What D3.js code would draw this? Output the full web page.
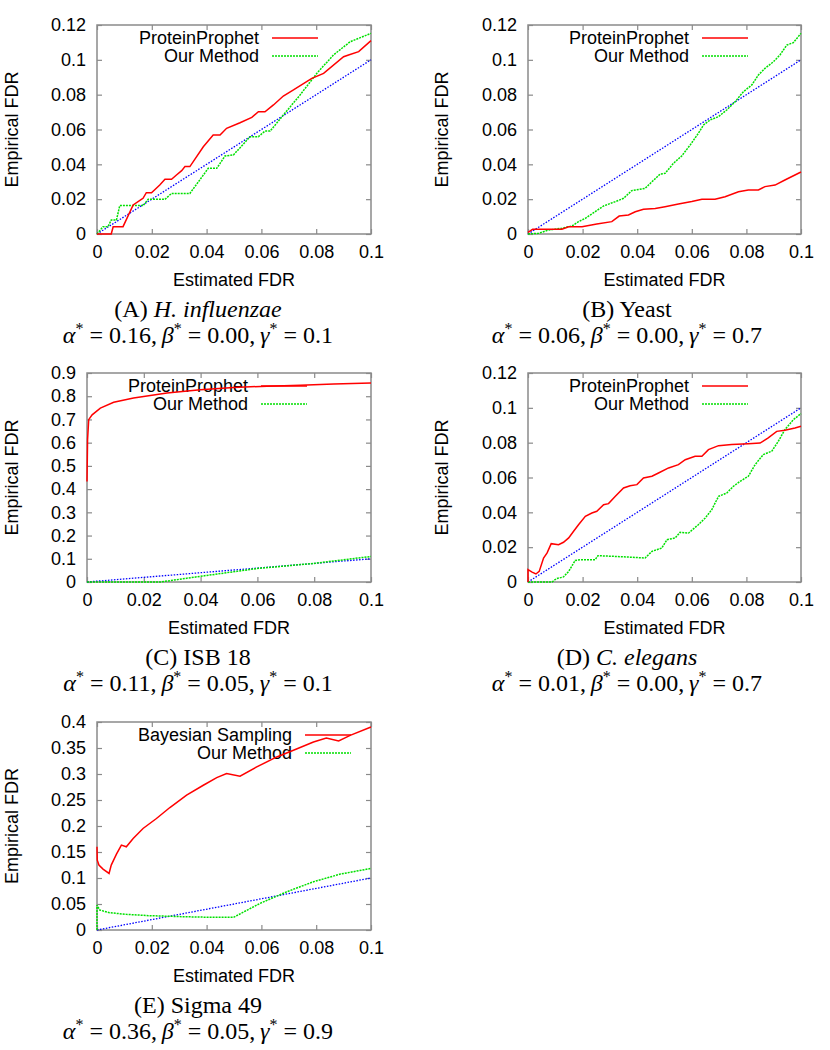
<!DOCTYPE html>
<html>
<head>
<meta charset="utf-8">
<script src="https://cdn.jsdelivr.net/npm/d3@7"></script>
<style>
  body { margin: 0; background: #fff; }
  svg { display: block; }
  .tick text { font-family: "Liberation Sans", Arial, sans-serif; font-size: 18px; fill: #000; }
</style>
</head>
<body>
<script>
const w = 830;
const h = 1050;

// tick values
const xTicks = [0, 0.02, 0.04, 0.06, 0.08, 0.1];
const yTicksSmall = [0, 0.02, 0.04, 0.06, 0.08, 0.1, 0.12];
const yTicksIsb = [0, 0.1, 0.2, 0.3, 0.4, 0.5, 0.6, 0.7, 0.8, 0.9];
const yTicksSigma = [0, 0.05, 0.1, 0.15, 0.2, 0.25, 0.3, 0.35, 0.4];

// legend names
const proteinLabels = ["ProteinProphet", "Our Method"];
const sigmaLabels = ["Bayesian Sampling", "Our Method"];

// caption texts
const panelTags = ["(A)", "(B)", "(C)", "(D)", "(E)"];
const panelNames = ["H. influenzae", "Yeast", "ISB 18", "C. elegans", "Sigma 49"];
const nameItalic = [true, false, false, true, false];
const alphaStar = ["0.16", "0.06", "0.11", "0.01", "0.36"];
const betaStar = ["0.00", "0.00", "0.05", "0.00", "0.05"];
const gammaStar = ["0.1", "0.7", "0.1", "0.7", "0.9"];

// (estimated FDR, empirical FDR)
const diagonal = [[0, 0], [0.1, 0.1]];

const hinfProphet = [[0,0],[0.0052,0],[0.0059,0.0042],[0.0095,0.0042],[0.0132,0.0167],[0.0162,0.0199],[0.0168,0.0205],
  [0.018,0.0237],[0.0199,0.0237],[0.0229,0.0281],[0.0248,0.0314],[0.0272,0.0314],[0.029,0.0339],[0.0309,0.0364],
  [0.0321,0.0387],[0.0339,0.0387],[0.0388,0.0501],[0.0424,0.0568],[0.0449,0.0568],[0.0473,0.0607],[0.0522,0.0639],
  [0.0565,0.067],[0.0589,0.0702],[0.0613,0.0702],[0.0644,0.0741],[0.068,0.0792],[0.0717,0.0827],[0.0784,0.0894],
  [0.0827,0.0922],[0.09,0.1018],[0.0918,0.1028],[0.0955,0.1047],[0.1,0.111]];
const hinfOurs = [[0,0],[0.0022,0.0042],[0.004,0.0042],[0.0052,0.008],[0.0071,0.008],[0.0083,0.0163],[0.0168,0.0163],
  [0.0187,0.0199],[0.0248,0.0199],[0.0272,0.0233],[0.0339,0.0233],[0.0406,0.0377],[0.0437,0.0377],[0.0467,0.0448],
  [0.0498,0.0454],[0.0559,0.0559],[0.0589,0.0559],[0.0613,0.0591],[0.0632,0.0591],[0.068,0.0683],[0.0741,0.0798],
  [0.0802,0.0922],[0.0863,0.1028],[0.0924,0.1104],[0.1,0.1152]];

const yeastProphet = [[0,0.001],[0.0017,0.0027],[0.0124,0.0027],[0.0149,0.0042],[0.0198,0.0042],[0.0252,0.0057],
  [0.0307,0.0071],[0.0334,0.0103],[0.0368,0.0109],[0.0393,0.0128],[0.0423,0.0142],[0.0466,0.0147],[0.0502,0.0157],
  [0.0551,0.0172],[0.06,0.0186],[0.0637,0.0199],[0.0685,0.0199],[0.0722,0.0214],[0.0771,0.0243],[0.0807,0.0253],
  [0.0844,0.0253],[0.0868,0.0272],[0.0905,0.0281],[0.0941,0.031],[0.1,0.0356]];
const yeastOurs = [[0,0],[0.0039,0.0004],[0.0076,0.0023],[0.0124,0.0033],[0.0161,0.0046],[0.0185,0.0071],[0.021,0.009],
  [0.0246,0.0128],[0.0277,0.0161],[0.032,0.0186],[0.035,0.0205],[0.038,0.0249],[0.0429,0.0262],[0.0454,0.03],
  [0.0484,0.0344],[0.0502,0.0348],[0.0533,0.0406],[0.0563,0.0448],[0.0594,0.0511],[0.0624,0.0578],[0.0643,0.0626],
  [0.0667,0.0655],[0.0698,0.0674],[0.0728,0.0712],[0.0759,0.076],[0.0789,0.0817],[0.082,0.0856],[0.0844,0.0913],
  [0.0868,0.0951],[0.0899,0.0989],[0.0923,0.1028],[0.0948,0.1085],[0.0972,0.1099],[0.1,0.1152]];

const isbProphet = [[0,0.433],[0.0002,0.613],[0.0006,0.699],[0.0018,0.72],[0.0047,0.749],[0.0094,0.774],[0.0164,0.792],
  [0.0282,0.814],[0.0399,0.828],[0.0516,0.838],[0.0634,0.843],[0.0751,0.847],[0.0869,0.853],[0.1,0.857]];
const isbOurs = [[0,0],[0.0258,0],[0.0399,0.0244],[0.0599,0.058],[0.0798,0.08],[0.1,0.11]];

const elegansProphet = [[0,0],[0,0.0071],[0.0015,0.0057],[0.0029,0.0046],[0.0041,0.0061],[0.0057,0.0138],[0.007,0.0167],
  [0.0085,0.022],[0.0112,0.0214],[0.013,0.0228],[0.0149,0.0253],[0.0167,0.0291],[0.0185,0.0329],[0.021,0.0377],
  [0.0234,0.0396],[0.0252,0.0406],[0.0277,0.0444],[0.0295,0.045],[0.032,0.0492],[0.035,0.054],[0.0374,0.0553],
  [0.0399,0.0559],[0.0423,0.0597],[0.0454,0.0607],[0.0478,0.0626],[0.0515,0.0655],[0.0551,0.0674],[0.0576,0.0702],
  [0.0612,0.0722],[0.0637,0.0722],[0.0661,0.076],[0.0698,0.0783],[0.0746,0.0789],[0.0807,0.0794],[0.085,0.0798],
  [0.088,0.0827],[0.0911,0.0865],[0.0941,0.0871],[0.0978,0.0884],[0.1,0.0894]];
const elegansOurs = [[0,0],[0.0088,0],[0.0104,0.0019],[0.013,0.0029],[0.0149,0.0061],[0.0173,0.0124],[0.0191,0.0128],
  [0.0246,0.0128],[0.0256,0.0151],[0.032,0.0147],[0.0429,0.0138],[0.0454,0.0176],[0.049,0.0195],[0.0509,0.0243],
  [0.0539,0.0253],[0.0557,0.0285],[0.0588,0.0281],[0.0624,0.0329],[0.0649,0.0367],[0.0673,0.0415],[0.0698,0.0492],
  [0.0728,0.0511],[0.0752,0.0549],[0.0777,0.0578],[0.0807,0.0607],[0.0832,0.0674],[0.0862,0.0732],[0.0893,0.0751],
  [0.0917,0.0808],[0.0941,0.0875],[0.0972,0.0932],[0.1,0.0967]];

const sigmaBayes = [[0,0.16],[0.0001,0.1344],[0.0007,0.1248],[0.0022,0.1171],[0.0044,0.1088],[0.0052,0.1248],
  [0.0071,0.1459],[0.0089,0.1632],[0.0107,0.16],[0.0132,0.176],[0.0168,0.1952],[0.0217,0.2144],[0.0266,0.2355],
  [0.0327,0.2592],[0.0388,0.2784],[0.0437,0.2931],[0.0473,0.3008],[0.0522,0.2957],[0.0583,0.3136],[0.0656,0.3328],
  [0.0717,0.3456],[0.079,0.3616],[0.0837,0.3693],[0.0882,0.3635],[0.0924,0.3744],[0.1,0.3904]];
const sigmaOurs = [[0,0],[0,0.048],[0.001,0.0384],[0.0046,0.0333],[0.0107,0.0301],[0.0193,0.0275],[0.0315,0.0256],
  [0.0424,0.0243],[0.0498,0.0243],[0.0595,0.0512],[0.0693,0.0736],[0.079,0.0928],[0.0888,0.1075],[0.1,0.1184]];

// panel frames on the page
const panels = [
  { left: 97, right: 371, top: 25, bottom: 234, yMax: 0.12, yTicks: yTicksSmall, labels: proteinLabels,
    red: hinfProphet, green: hinfOurs, titleX: 18, capX: 198, keyEnd: 318 },
  { left: 528, right: 801, top: 25, bottom: 234, yMax: 0.12, yTicks: yTicksSmall, labels: proteinLabels,
    red: yeastProphet, green: yeastOurs, titleX: 448, capX: 627, keyEnd: 748 },
  { left: 87, right: 371, top: 373, bottom: 582, yMax: 0.9, yTicks: yTicksIsb, labels: proteinLabels,
    red: isbProphet, green: isbOurs, titleX: 18, capX: 198, keyEnd: 307 },
  { left: 528, right: 801, top: 373, bottom: 582, yMax: 0.12, yTicks: yTicksSmall, labels: proteinLabels,
    red: elegansProphet, green: elegansOurs, titleX: 448, capX: 627, keyEnd: 748 },
  { left: 97, right: 371, top: 722, bottom: 930, yMax: 0.4, yTicks: yTicksSigma, labels: sigmaLabels,
    red: sigmaBayes, green: sigmaOurs, titleX: 18, capX: 198, keyEnd: 351 }
];

const sans = "'Liberation Sans', Arial, sans-serif";
const serif = "'Liberation Serif', 'Times New Roman', serif";
const frameColor = "#8a8a8a";

const svg = d3.select("body").append("svg").attr("width", w).attr("height", h);
svg.append("rect").attr("width", w).attr("height", h).attr("fill", "#fff");

panels.forEach(function (p, i) {
  drawPanel(p, i);
});

function fmt(d) {
  return String(+d.toFixed(3));
}

function drawPanel(p, i) {
  const xScale = d3.scaleLinear().domain([0, 0.1]).range([p.left, p.right]);
  const yScale = d3.scaleLinear().domain([0, p.yMax]).range([p.bottom, p.top]);
  const g = svg.append("g");

  // axes, ticks pointing inwards on all four sides
  const axes = [
    [d3.axisBottom(xScale).tickValues(xTicks).tickFormat(fmt), "translate(0," + p.bottom + ")", true],
    [d3.axisTop(xScale).tickValues(xTicks).tickFormat(""), "translate(0," + p.top + ")", false],
    [d3.axisLeft(yScale).tickValues(p.yTicks).tickFormat(fmt), "translate(" + p.left + ",0)", true],
    [d3.axisRight(yScale).tickValues(p.yTicks).tickFormat(""), "translate(" + p.right + ",0)", false]
  ];
  axes.forEach(function (a) {
    const ax = g.append("g")
      .attr("transform", a[1])
      .call(a[0].tickSizeInner(-5).tickSizeOuter(0).tickPadding(a[2] ? 11 : 0));
    ax.select(".domain").remove();
    ax.selectAll(".tick line").attr("stroke", frameColor).attr("stroke-width", 1.2);
  });
  g.selectAll(".tick text").attr("fill", "#000");

  g.append("rect")
    .attr("x", p.left).attr("y", p.top)
    .attr("width", p.right - p.left).attr("height", p.bottom - p.top)
    .attr("fill", "none").attr("stroke", frameColor).attr("stroke-width", 1.5);

  // axis titles
  g.append("text")
    .attr("transform", "translate(" + p.titleX + "," + (p.top + p.bottom) / 2 + ") rotate(-90)")
    .attr("text-anchor", "middle")
    .style("font-family", sans).style("font-size", "18px")
    .text("Empirical FDR");
  g.append("text")
    .attr("x", (p.left + p.right) / 2).attr("y", p.bottom + 52)
    .attr("text-anchor", "middle")
    .style("font-family", sans).style("font-size", "18px")
    .text("Estimated FDR");

  const line = d3.line()
    .x(function (d) { return xScale(d[0]); })
    .y(function (d) { return yScale(d[1]); });

  // legend
  const keyRows = [p.top + 13, p.top + 31];
  p.labels.forEach(function (lab, k) {
    g.append("text")
      .attr("x", p.keyEnd - 59).attr("y", keyRows[k]).attr("dy", "0.35em")
      .attr("text-anchor", "end")
      .style("font-family", sans).style("font-size", "18px")
      .text(lab);
  });

  g.append("path").datum(diagonal).attr("d", line)
    .attr("fill", "none").attr("stroke", "#0000ff").attr("stroke-width", 1.3)
    .attr("stroke-dasharray", "1.5,1.5");
  g.append("path").datum(p.green).attr("d", line)
    .attr("fill", "none").attr("stroke", "#00e000").attr("stroke-width", 1.5)
    .attr("stroke-dasharray", "2,1");
  g.append("path").datum(p.red).attr("d", line)
    .attr("fill", "none").attr("stroke", "#ff0000").attr("stroke-width", 1.5);

  g.append("line")
    .attr("x1", p.keyEnd - 46).attr("x2", p.keyEnd)
    .attr("y1", keyRows[0]).attr("y2", keyRows[0])
    .attr("stroke", "#ff0000").attr("stroke-width", 1.5);
  g.append("line")
    .attr("x1", p.keyEnd - 46).attr("x2", p.keyEnd)
    .attr("y1", keyRows[1]).attr("y2", keyRows[1])
    .attr("stroke", "#00e000").attr("stroke-width", 1.5)
    .attr("stroke-dasharray", "2,1");

  // caption
  const cap = g.append("text")
    .attr("x", p.capX).attr("y", p.bottom + 83)
    .attr("text-anchor", "middle")
    .style("font-family", serif).style("font-size", "24px");
  cap.append("tspan").text(panelTags[i] + " ");
  cap.append("tspan").style("font-style", nameItalic[i] ? "italic" : "normal").text(panelNames[i]);

  const par = g.append("text")
    .attr("x", p.capX).attr("y", p.bottom + 109)
    .attr("text-anchor", "middle")
    .style("font-family", serif).style("font-size", "24px")
    .style("white-space", "pre");
  const parts = [["α", alphaStar[i], ",\u2009"], ["β", betaStar[i], ",\u2009"], ["γ", gammaStar[i], ""]];
  parts.forEach(function (q) {
    par.append("tspan").style("font-style", "italic").text(q[0]);
    par.append("tspan").attr("dy", -9).style("font-size", "16px").text("*");
    par.append("tspan").attr("dy", 9).text(" = " + q[1] + q[2]);
  });
}
</script>
</body>
</html>
